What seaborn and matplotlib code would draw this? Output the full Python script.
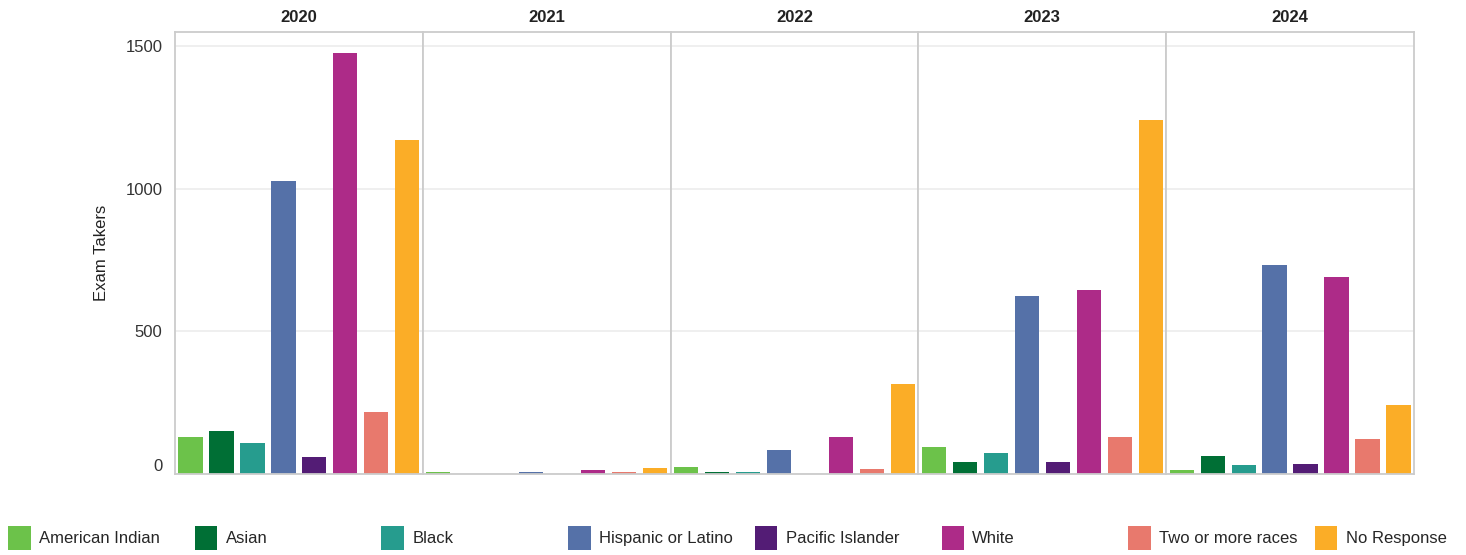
import matplotlib
matplotlib.use("Agg")
import pandas as pd
import matplotlib.pyplot as plt
import seaborn as sns
from matplotlib.patches import Patch

# Data
years = ["2020", "2021", "2022", "2023", "2024"]
races = ["American Indian", "Asian", "Black", "Hispanic or Latino",
         "Pacific Islander", "White", "Two or more races", "No Response"]

american_indian = [130, 7, 25, 95, 14]
asian = [151, 0, 6, 42, 63]
black = [110, 0, 6, 74, 31]
hispanic = [1027, 7, 84, 624, 733]
pacific_islander = [60, 0, 0, 42, 35]
white = [1476, 15, 130, 645, 690]
two_or_more = [217, 7, 16, 130, 122]
no_response = [1171, 22, 315, 1241, 241]

# Colors for each group
colors = {
    "American Indian": "#6cc24a",
    "Asian": "#006f35",
    "Black": "#269c8e",
    "Hispanic or Latino": "#5571a8",
    "Pacific Islander": "#531c75",
    "White": "#ad2b88",
    "Two or more races": "#e8796d",
    "No Response": "#fbad27",
}

series = [american_indian, asian, black, hispanic,
          pacific_islander, white, two_or_more, no_response]
rows = []
for race, vals in zip(races, series):
    for year, v in zip(years, vals):
        rows.append({"Year": year, "Race": race, "Count": v})
df = pd.DataFrame(rows)

sns.set_style("white")
plt.rcParams["font.family"] = ["Liberation Sans", "DejaVu Sans"]

fig, axes = plt.subplots(1, 5, figsize=(14.66, 5.55), dpi=100, sharey=True,
                         gridspec_kw=dict(wspace=0))
fig.subplots_adjust(left=0.1194, right=0.9645, bottom=0.146, top=0.9423)

for i, (ax, year) in enumerate(zip(axes, years)):
    sub = df[df["Year"] == year]
    sns.barplot(data=sub, x="Race", y="Count", hue="Race", order=races,
                hue_order=races, palette=colors, width=0.78, saturation=1,
                linewidth=0, legend=False, ax=ax)
    ax.set_xlim(-0.5, 7.5)
    ax.set_ylim(0, 1549)
    ax.set_xticks([])
    ax.set_xlabel("")
    ax.set_ylabel("")
    ax.set_title(year, fontweight="bold", fontsize=12, pad=7, color="#222222")
    ax.set_axisbelow(True)
    ax.yaxis.grid(True, color="#eeeeee", lw=1.3)
    for sp in ax.spines.values():
        sp.set_color("#cccccc")
        sp.set_linewidth(1.3)
    ax.tick_params(axis="y", length=0, pad=9, labelsize=12, labelcolor="#333333")

axes[0].set_yticks([0, 500, 1000, 1500])
axes[0].set_ylabel("Exam Takers", fontsize=12, color="#222222", labelpad=12)
axes[0].get_yticklabels()[0].set_va("bottom")

# Legend spread evenly along the bottom
for i, race in enumerate(races):
    fig.legend(handles=[Patch(facecolor=colors[race], edgecolor="none")],
               labels=[race], loc="center left",
               bbox_to_anchor=((8 + i * 186.7) / 1466, 0.031),
               frameon=False, fontsize=12, handlelength=1.35, handleheight=1.85,
               handletextpad=0.5, borderpad=0, borderaxespad=0)

plt.savefig("out.png", dpi=100)
